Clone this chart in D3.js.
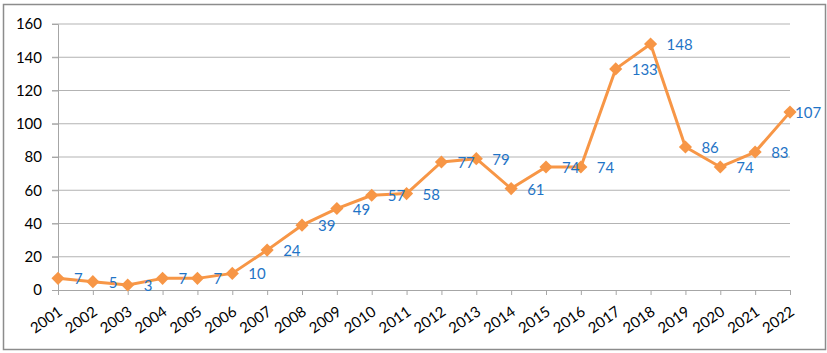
<!DOCTYPE html>
<html>
<head>
<meta charset="utf-8">
<script src="https://cdn.jsdelivr.net/npm/d3@7"></script>
<style>
  body { margin: 0; background: #fff; }
  text { font-family: Lato, "Open Sans", sans-serif; }
</style>
</head>
<body>
<div id="main"></div>
<script>
const ctx = {
    w: 827,
    h: 353,
};

const years = ["2001","2002","2003","2004","2005","2006","2007","2008","2009","2010","2011",
               "2012","2013","2014","2015","2016","2017","2018","2019","2020","2021","2022"];
const counts = [7, 5, 3, 7, 7, 10, 24, 39, 49, 57, 58, 77, 79, 61, 74, 74, 133, 148, 86, 74, 83, 107];
const yTicks = [0, 20, 40, 60, 80, 100, 120, 140, 160];

function createChart(svg) {
    // outer frame
    svg.append("rect")
        .attr("x", 3.5).attr("y", 4.5)
        .attr("width", 822).attr("height", 345)
        .attr("fill", "#fff")
        .attr("stroke", "#8c8c8c")
        .attr("stroke-width", 1.5);

    let x = d3.scalePoint().domain(years).range([58, 790]);
    let y = d3.scaleLinear().domain([0, 160]).range([290, 24]);

    // gridlines
    svg.append("g").selectAll("line")
        .data(yTicks.filter(d => d > 0))
        .enter().append("line")
        .attr("x1", 52).attr("x2", 790)
        .attr("y1", d => y(d)).attr("y2", d => y(d))
        .attr("stroke", "#b3b3b3")
        .attr("stroke-width", 1);

    // y axis
    let yAxis = svg.append("g")
        .attr("transform", "translate(58,0)")
        .call(d3.axisLeft(y).tickValues(yTicks).tickSize(6).tickPadding(10));
    yAxis.select(".domain").attr("stroke", "#a6a6a6");
    yAxis.selectAll(".tick line").attr("stroke", "#a6a6a6");
    yAxis.selectAll(".tick text")
        .attr("font-size", "15px")
        .attr("fill", "#000")
        .attr("font-family", "Lato, sans-serif");

    // x axis
    let xAxis = svg.append("g")
        .attr("transform", "translate(0,290)")
        .call(d3.axisBottom(x).tickSize(5).tickSizeOuter(0));
    xAxis.select(".domain").attr("stroke", "#a6a6a6");
    xAxis.selectAll(".tick line").attr("stroke", "#a6a6a6");
    xAxis.selectAll(".tick text")
        .attr("font-size", "15px")
        .attr("fill", "#000")
        .attr("font-family", "Lato, sans-serif")
        .attr("text-anchor", "end")
        .attr("dy", "0")
        .attr("y", 0)
        .attr("transform", "translate(5,24) rotate(-35)");

    // line
    let line = d3.line()
        .x((d, i) => x(years[i]))
        .y(d => y(d));

    svg.append("path")
        .datum(counts)
        .attr("d", line)
        .attr("fill", "none")
        .attr("stroke", "#f79646")
        .attr("stroke-width", 3)
        .attr("stroke-linejoin", "round");

    // diamond markers
    let diamond = d3.symbol().type(d3.symbolDiamond2).size(110);
    svg.append("g").selectAll("path")
        .data(counts)
        .enter().append("path")
        .attr("d", diamond)
        .attr("transform", (d, i) => "translate(" + x(years[i]) + "," + y(d) + ")")
        .attr("fill", "#f79646");

    // data labels (last one squeezed against the frame, as in the original)
    svg.append("g").selectAll("text")
        .data(counts)
        .enter().append("text")
        .attr("x", (d, i) => x(years[i]) + (i === counts.length - 1 ? 5 : 16))
        .attr("y", d => y(d) + 6)
        .attr("font-size", "15px")
        .attr("fill", "#1f74c6")
        .text(d => d);
}

function createViz() {
    let svgEl = d3.select("#main").append("svg");
    svgEl.attr("width", ctx.w);
    svgEl.attr("height", ctx.h);
    createChart(svgEl);
}

createViz();
</script>
</body>
</html>
